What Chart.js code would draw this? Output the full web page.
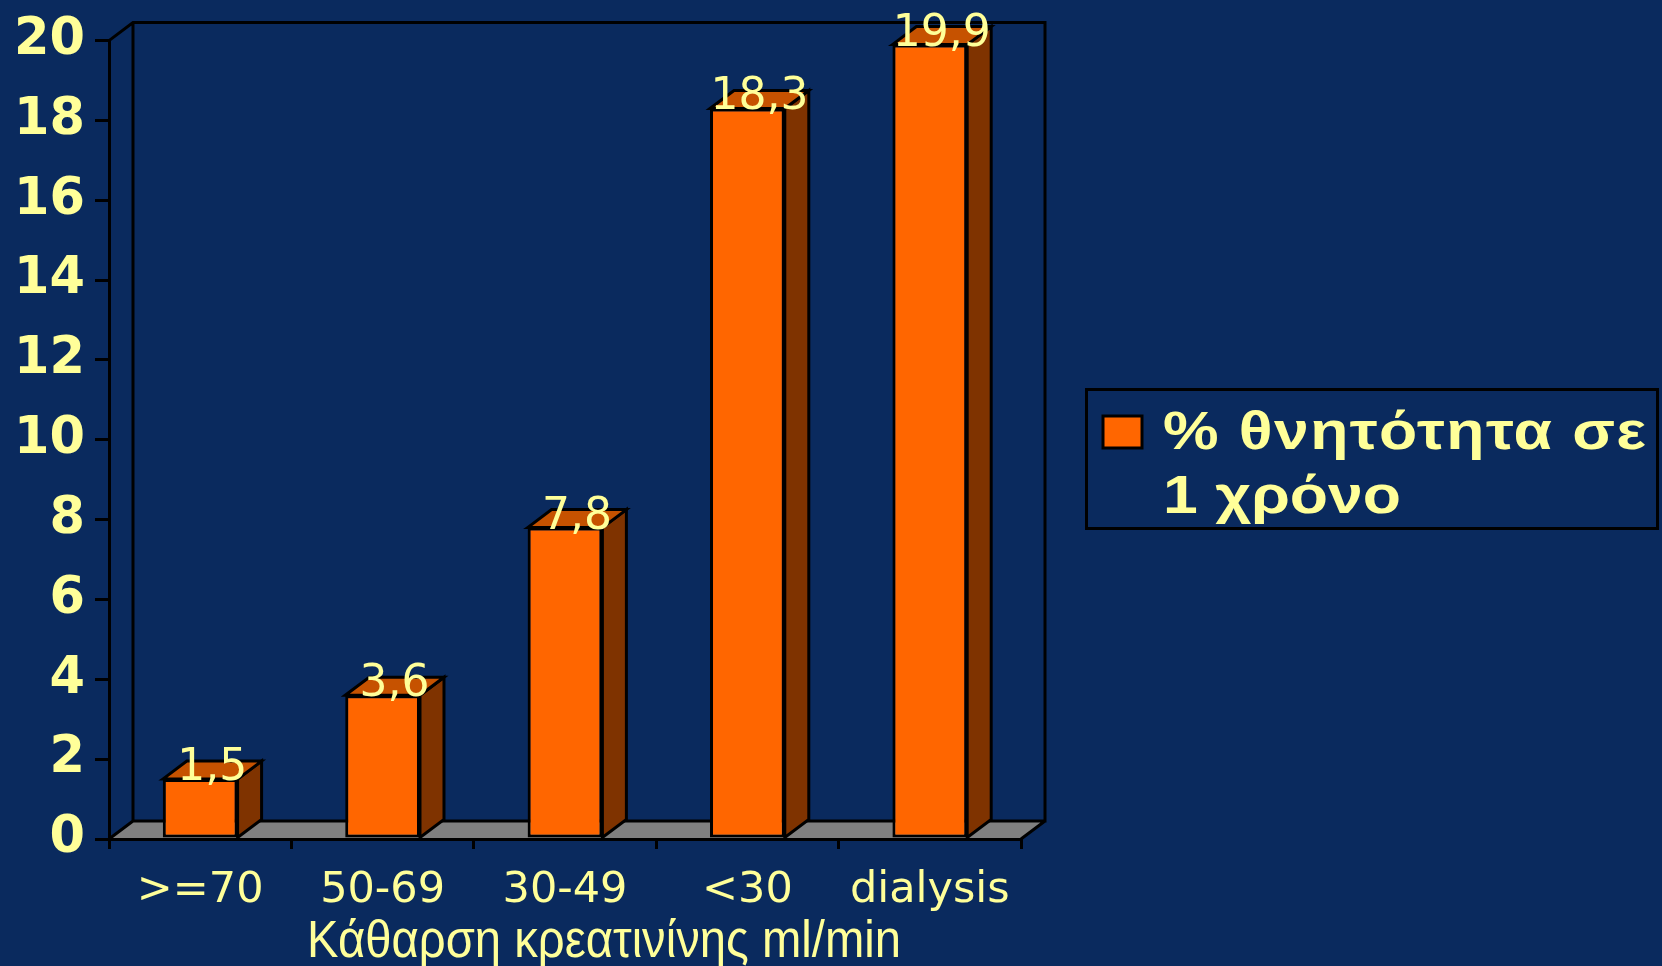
<!DOCTYPE html>
<html>
<head>
<meta charset="utf-8">
<script src="https://cdn.jsdelivr.net/npm/chart.js@4.4.1/dist/chart.umd.min.js"></script>
<style>
  html, body { margin: 0; padding: 0; background: #0a2a5e; }
  canvas { display: block; }
</style>
</head>
<body>
<canvas id="chart" width="1662" height="966"></canvas>
<script>
// Data
const categories = ['>=70', '50-69', '30-49', '<30', 'dialysis'];
const mortality = [1.5, 3.6, 7.8, 18.3, 19.9];
const seriesLabel = ['% θνητότητα σε', '1 χρόνο'];
const axisTitle = 'Κάθαρση κρεατινίνης ml/min';
const yMin = 0, yMax = 20, yStep = 2;

// Styling
const BG = '#0a2a5e';
const TEXT = '#ffff99';
const FRONT = '#ff6600';
const TOP = '#c65200';
const SIDE = '#7f3300';
const FLOOR = '#808080';
const LINE = '#000000';
const DX = 24, DY = 18;           // depth of the 3D box
const fmt = v => v.toFixed(1).replace('.', ',');

// Back walls and floor of the 3D box, drawn before the axes
const roomPlugin = {
  id: 'room',
  beforeDraw(chart) {
    const { ctx, chartArea: a } = chart;
    const y = chart.scales.y;
    const yb = y.getPixelForValue(yMin);
    const yt = y.getPixelForValue(yMax);
    ctx.save();
    ctx.fillStyle = BG;
    ctx.fillRect(0, 0, chart.width, chart.height);

    ctx.beginPath();
    ctx.moveTo(a.left, yb);
    ctx.lineTo(a.left + DX, yb - DY);
    ctx.lineTo(a.right + DX, yb - DY);
    ctx.lineTo(a.right, yb);
    ctx.closePath();
    ctx.fillStyle = FLOOR;
    ctx.fill();

    ctx.strokeStyle = LINE;
    ctx.lineWidth = 3;
    ctx.beginPath();
    ctx.moveTo(a.left, yt);
    ctx.lineTo(a.left + DX, yt - DY);
    ctx.lineTo(a.right + DX, yt - DY);
    ctx.lineTo(a.right + DX, yb - DY);
    ctx.lineTo(a.left + DX, yb - DY);
    ctx.lineTo(a.left + DX, yt - DY);
    ctx.moveTo(a.left, yb);
    ctx.lineTo(a.left + DX, yb - DY);
    ctx.moveTo(a.right, yb);
    ctx.lineTo(a.right + DX, yb - DY);
    ctx.stroke();
    ctx.restore();
  }
};

// Top and side faces of each column plus the value labels
const columnPlugin = {
  id: 'columns',
  afterDatasetsDraw(chart) {
    const { ctx } = chart;
    const meta = chart.getDatasetMeta(0);
    const values = chart.data.datasets[0].data;
    ctx.save();
    ctx.strokeStyle = LINE;
    ctx.lineWidth = 3;
    ctx.lineJoin = 'miter';
    meta.data.forEach((bar) => {
      const { x, y, base, width } = bar.getProps(['x', 'y', 'base', 'width'], true);
      const l = x - width / 2, r = x + width / 2;
      ctx.beginPath();
      ctx.moveTo(r, y);
      ctx.lineTo(r + DX, y - DY);
      ctx.lineTo(r + DX, base - DY);
      ctx.lineTo(r, base);
      ctx.closePath();
      ctx.fillStyle = SIDE;
      ctx.fill();
      ctx.stroke();

      ctx.beginPath();
      ctx.moveTo(l, y);
      ctx.lineTo(l + DX, y - DY);
      ctx.lineTo(r + DX, y - DY);
      ctx.lineTo(r, y);
      ctx.closePath();
      ctx.fillStyle = TOP;
      ctx.fill();
      ctx.stroke();
    });
    ctx.fillStyle = TEXT;
    ctx.font = '44px "DejaVu Sans"';
    ctx.textAlign = 'center';
    ctx.textBaseline = 'alphabetic';
    meta.data.forEach((bar, i) => {
      const { x, y } = bar.getProps(['x', 'y'], true);
      ctx.fillText(fmt(values[i]), x + DX / 2, y + 1);
    });
    ctx.restore();
  }
};

// Draws a line of text widened by `stretch`, then spaced out to reach targetWidth
function fitText(ctx, text, x, y, targetWidth, stretch) {
  const natural = ctx.measureText(text).width;
  ctx.save();
  ctx.translate(x, y);
  if ('letterSpacing' in ctx && text.length > 1) {
    ctx.scale(stretch, 1);
    const extra = (targetWidth / stretch - natural) / (text.length - 1);
    ctx.letterSpacing = Math.max(0, extra) + 'px';
    ctx.fillText(text, 0, 0);
  } else {
    ctx.scale(targetWidth / natural, 1);
    ctx.fillText(text, 0, 0);
  }
  ctx.restore();
}

// Axis title and the boxed legend on the right
const labelPlugin = {
  id: 'labels',
  afterDraw(chart) {
    const { ctx, chartArea: a } = chart;
    ctx.save();
    ctx.fillStyle = TEXT;
    ctx.font = '51px "Liberation Sans"';
    ctx.textBaseline = 'alphabetic';
    ctx.textAlign = 'left';
    const tw = ctx.measureText(axisTitle).width;
    const target = 594;
    const cx = (a.left + a.right) / 2 + 39;
    ctx.translate(cx - target / 2, 957);
    ctx.scale(target / tw, 1);
    ctx.fillText(axisTitle, 0, 0);
    ctx.restore();

    const ds = chart.data.datasets[0];
    const lx = a.right + 64, ly = 388, lw = 574, lh = 142;
    ctx.save();
    ctx.strokeStyle = LINE;
    ctx.lineWidth = 3;
    ctx.strokeRect(lx + 1.5, ly + 1.5, lw - 3, lh - 3);
    ctx.fillStyle = ds.backgroundColor;
    ctx.fillRect(lx + 18, ly + 28, 39, 32);
    ctx.strokeRect(lx + 18, ly + 28, 39, 32);
    ctx.fillStyle = TEXT;
    ctx.font = 'bold 53px "Liberation Sans"';
    ctx.textAlign = 'left';
    ctx.textBaseline = 'alphabetic';
    const widths = [483, 238];
    ds.label.forEach((t, i) => fitText(ctx, t, lx + 78, ly + 61 + i * 64, widths[i], 1.18));
    ctx.restore();
  }
};

new Chart(document.getElementById('chart'), {
  type: 'bar',
  data: {
    labels: categories,
    datasets: [{
      label: seriesLabel,
      data: mortality,
      backgroundColor: FRONT,
      borderColor: LINE,
      borderWidth: 3,
      borderSkipped: false,
      categoryPercentage: 1,
      barPercentage: 0.41
    }]
  },
  options: {
    responsive: false,
    animation: false,
    devicePixelRatio: 1,
    layout: { padding: { left: 0, right: 641, top: 39, bottom: 0 } },
    plugins: { legend: { display: false }, tooltip: { enabled: false } },
    scales: {
      x: {
        afterFit(s) { s.height = 127; },
        grid: { drawOnChartArea: false, drawTicks: true, tickLength: 10, color: LINE, lineWidth: 3, offset: true },
        border: { color: LINE, width: 3 },
        ticks: { color: TEXT, font: { family: 'DejaVu Sans', size: 43 }, padding: 16, maxRotation: 0, autoSkip: false }
      },
      y: {
        min: yMin, max: yMax,
        afterFit(s) { s.width = 109; },
        grid: { drawOnChartArea: false, drawTicks: true, tickLength: 14, color: LINE, lineWidth: 3 },
        border: { color: LINE, width: 3 },
        ticks: { stepSize: yStep, color: TEXT, font: { family: 'DejaVu Sans', size: 51, weight: 'bold' }, padding: 10 }
      }
    }
  },
  plugins: [roomPlugin, columnPlugin, labelPlugin]
});
</script>
</body>
</html>
